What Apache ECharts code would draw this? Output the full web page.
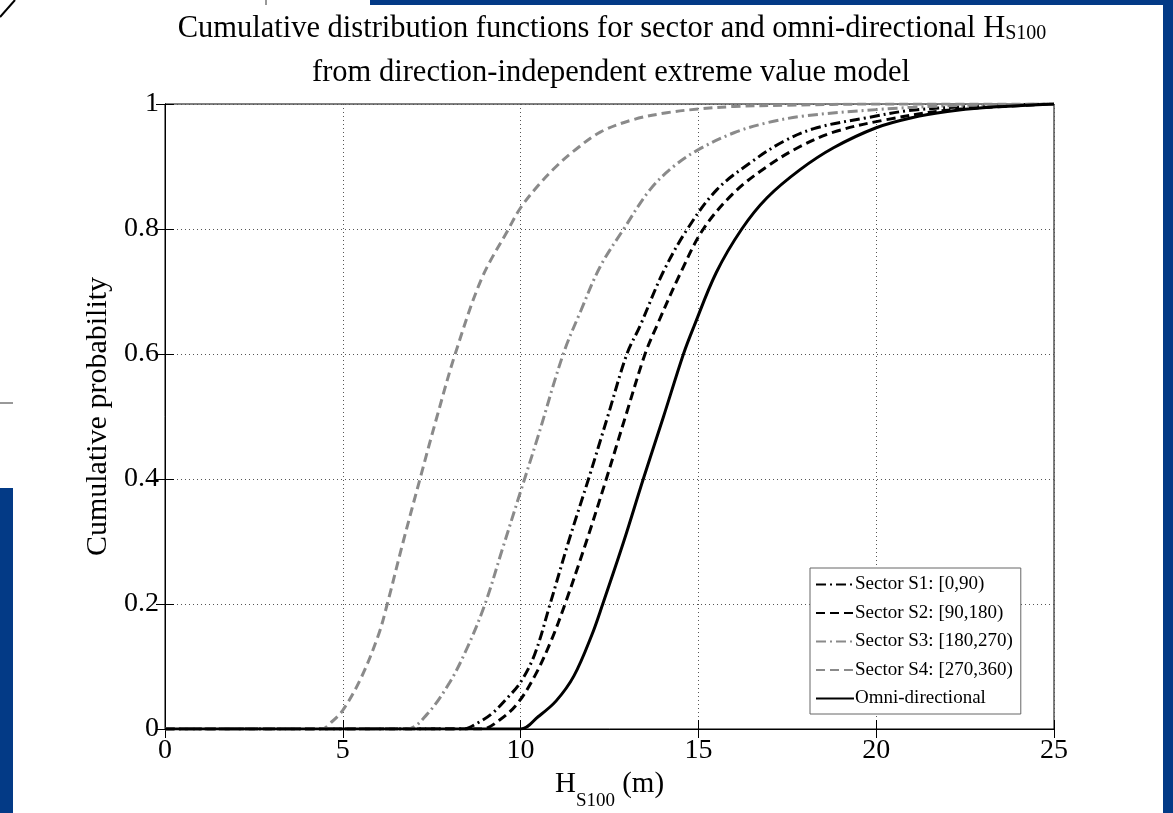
<!DOCTYPE html>
<html>
<head>
<meta charset="utf-8">
<script src="https://cdn.jsdelivr.net/npm/echarts@6/dist/echarts.min.js"></script>
<style>
html,body{margin:0;padding:0;background:#fff;}
#c{width:1173px;height:813px;}
</style>
</head>
<body>
<div id="c"></div>
<script>
// ---- data ----
const seriesNames = ['Sector S1: [0,90)', 'Sector S2: [90,180)', 'Sector S3: [180,270)', 'Sector S4: [270,360)', 'Omni-directional'];

const s1X = [0, 8.39, 8.8, 9.2, 9.6, 10, 10.4, 10.83, 11.35, 11.91, 12.45, 12.99, 13.36, 14.0, 14.69, 15.52, 16.46, 17.39, 18.33, 19.74, 21, 23, 25];
const s1Y = [0, 0, 0.01, 0.025, 0.048, 0.075, 0.12, 0.2, 0.3, 0.4, 0.5, 0.6, 0.645, 0.73, 0.8, 0.863, 0.906, 0.94, 0.962, 0.978, 0.99, 0.997, 1];

const s2X = [0, 8.91, 9.4, 9.9, 10.4, 10.85, 11.25, 11.85, 12.41, 12.95, 13.5, 13.83, 14.5, 15.14, 16, 16.93, 17.86, 18.8, 20.2, 22, 25];
const s2Y = [0, 0, 0.014, 0.04, 0.085, 0.14, 0.2, 0.3, 0.4, 0.5, 0.6, 0.645, 0.73, 0.8, 0.858, 0.9, 0.932, 0.955, 0.974, 0.99, 1];

const s3X = [0, 6.8, 7.36, 8, 8.5, 9, 9.5, 10, 10.5, 11.2, 11.7, 12.24, 12.9, 13.64, 14.3, 15, 16, 16.93, 18, 20, 22, 25];
const s3Y = [0, 0, 0.023, 0.074, 0.13, 0.2, 0.29, 0.38, 0.47, 0.6, 0.67, 0.74, 0.8, 0.863, 0.9, 0.927, 0.954, 0.97, 0.981, 0.991, 0.997, 1];

const s4X = [0, 4.4, 4.7, 5, 5.5, 6, 6.25, 6.7, 7.17, 7.65, 8.16, 8.9, 9.66, 10, 10.5, 11, 11.5, 12.24, 13.17, 14.11, 15, 16, 17.5, 20, 25];
const s4Y = [0, 0, 0.012, 0.03, 0.08, 0.15, 0.2, 0.3, 0.4, 0.5, 0.6, 0.72, 0.8, 0.834, 0.87, 0.9, 0.925, 0.955, 0.975, 0.986, 0.992, 0.996, 0.998, 1, 1];

const omniX = [0, 10, 10.5, 11, 11.5, 12, 12.31, 12.9, 13.45, 14.02, 14.58, 14.86, 15.5, 16.22, 16.93, 17.86, 18.8, 20, 21, 22, 23, 25];
const omniY = [0, 0, 0.02, 0.045, 0.085, 0.15, 0.2, 0.3, 0.4, 0.5, 0.6, 0.642, 0.73, 0.8, 0.85, 0.895, 0.93, 0.962, 0.978, 0.988, 0.994, 1];

const xTicks = [0, 5, 10, 15, 20, 25];
const yTicks = [0, 0.2, 0.4, 0.6, 0.8, 1];

// ---- build chart ----
const SERIF = '"Liberation Serif", "DejaVu Serif", serif';
const pairs = (xs, ys) => xs.map((x, i) => [x, ys[i]]);

const styles = [
  { color: '#000000', type: [10, 4, 2, 4] },
  { color: '#000000', type: [9, 5] },
  { color: '#8a8a8a', type: [10, 4, 2, 4] },
  { color: '#8a8a8a', type: [9, 5] },
  { color: '#000000', type: 'solid' }
];
const dataSets = [pairs(s1X, s1Y), pairs(s2X, s2Y), pairs(s3X, s3Y), pairs(s4X, s4Y), pairs(omniX, omniY)];

const series = dataSets.map((d, i) => ({
  name: seriesNames[i],
  type: 'line',
  smooth: 0.35,
  symbol: 'none',
  showSymbol: false,
  data: d,
  xAxisIndex: 0,
  yAxisIndex: 0,
  color: styles[i].color,
  lineStyle: { color: styles[i].color, width: 3, type: styles[i].type },
  z: i === 4 ? 3 : 2
}));

const chart = echarts.init(document.getElementById('c'), null, { renderer: 'canvas' });
const blue = '#033a86';

const option = {
  backgroundColor: '#ffffff',
  animation: false,
  textStyle: { fontFamily: SERIF },
  grid: {
    left: 165, right: 119, top: 104, bottom: 84,
    containLabel: false, outerBoundsMode: 'none',
    show: true, borderColor: '#000', borderWidth: 1, backgroundColor: 'transparent'
  },
  xAxis: [
    {
      type: 'value', min: xTicks[0], max: xTicks[xTicks.length - 1], interval: 5,
      position: 'bottom',
      axisLine: { show: true, lineStyle: { color: '#000', width: 1 } },
      axisTick: { show: true, inside: true, length: 9, lineStyle: { color: '#000' } },
      axisLabel: { color: '#000', fontSize: 28, fontFamily: SERIF, margin: 8 },
      splitLine: { show: true, lineStyle: { color: '#555', width: 1, type: [1, 3] } },
      name: '{h|H}{s|S100}{m| (m)}',
      nameLocation: 'middle', nameGap: 30,
      nameTextStyle: {
        rich: {
          h: { fontSize: 29, fontFamily: SERIF, color: '#000', verticalAlign: 'top', lineHeight: 32 },
          s: { fontSize: 19, fontFamily: SERIF, color: '#000', verticalAlign: 'top', padding: [22, 0, 0, 0] },
          m: { fontSize: 29, fontFamily: SERIF, color: '#000', verticalAlign: 'top', lineHeight: 32 }
        }
      }
    },
    {
      type: 'value', min: 0, max: 25, interval: 5, position: 'top',
      axisLine: { show: true, lineStyle: { color: '#000' } },
      axisTick: { show: true, inside: true, length: 9, lineStyle: { color: '#000' } },
      axisLabel: { show: false }, splitLine: { show: false }
    }
  ],
  yAxis: [
    {
      type: 'value', min: yTicks[0], max: yTicks[yTicks.length - 1], interval: 0.2,
      axisLine: { show: true, lineStyle: { color: '#000', width: 1 } },
      axisTick: { show: true, inside: true, length: 9, lineStyle: { color: '#000' } },
      axisLabel: { color: '#000', fontSize: 28, fontFamily: SERIF, margin: 6 },
      splitLine: { show: true, lineStyle: { color: '#555', width: 1, type: [1, 3] } },
      name: 'Cumulative probability',
      nameLocation: 'middle', nameGap: 50,
      nameTextStyle: { fontSize: 30, fontFamily: SERIF, color: '#000' }
    },
    {
      type: 'value', min: 0, max: 1, interval: 0.2, position: 'right',
      axisLine: { show: true, lineStyle: { color: '#000' } },
      axisTick: { show: true, inside: true, length: 9, lineStyle: { color: '#000' } },
      axisLabel: { show: false }, splitLine: { show: false }
    }
  ],
  legend: {
    orient: 'vertical',
    left: 810, top: 568,
    backgroundColor: '#fff',
    borderColor: '#666', borderWidth: 1,
    padding: [7, 8, 6, 5],
    itemWidth: 38, itemHeight: 14, itemGap: 9.5,
    itemStyle: { opacity: 0 },
    textStyle: { fontSize: 19, fontFamily: SERIF, color: '#000', padding: [0, 0, 0, -4] },
    data: seriesNames
  },
  graphic: [
    { type: 'rect', shape: { x: 370, y: 0, width: 803, height: 5 }, style: { fill: blue }, silent: true },
    { type: 'rect', shape: { x: 1163, y: 0, width: 10, height: 813 }, style: { fill: blue }, silent: true },
    { type: 'rect', shape: { x: 0, y: 488, width: 13, height: 325 }, style: { fill: blue }, silent: true },
    { type: 'line', shape: { x1: 0, y1: 17, x2: 15, y2: 0 }, style: { stroke: '#000', lineWidth: 2 }, silent: true },
    { type: 'line', shape: { x1: 0, y1: 403, x2: 13, y2: 403 }, style: { stroke: '#333', lineWidth: 1 }, silent: true },
    { type: 'line', shape: { x1: 266, y1: 0, x2: 266, y2: 5 }, style: { stroke: '#333', lineWidth: 1 }, silent: true },
    {
      type: 'text', x: 612, y: 4, silent: true,
      style: {
        textAlign: 'center', textVerticalAlign: 'top',
        text: '{t|Cumulative distribution functions for sector and omni-directional H}{s|S100}',
        rich: {
          t: { fontSize: 30.5, fontFamily: SERIF, fill: '#000', verticalAlign: 'bottom', lineHeight: 34 },
          s: { fontSize: 20, fontFamily: SERIF, fill: '#000', verticalAlign: 'bottom', padding: [20, 0, 0, 0] }
        }
      }
    },
    {
      type: 'text', x: 611, y: 57, silent: true,
      style: { textAlign: 'center', textVerticalAlign: 'top', text: 'from direction-independent extreme value model', fontSize: 30.5, fontFamily: SERIF, fill: '#000' }
    }
  ],
  series: series
};
chart.setOption(option);
</script>
</body>
</html>
